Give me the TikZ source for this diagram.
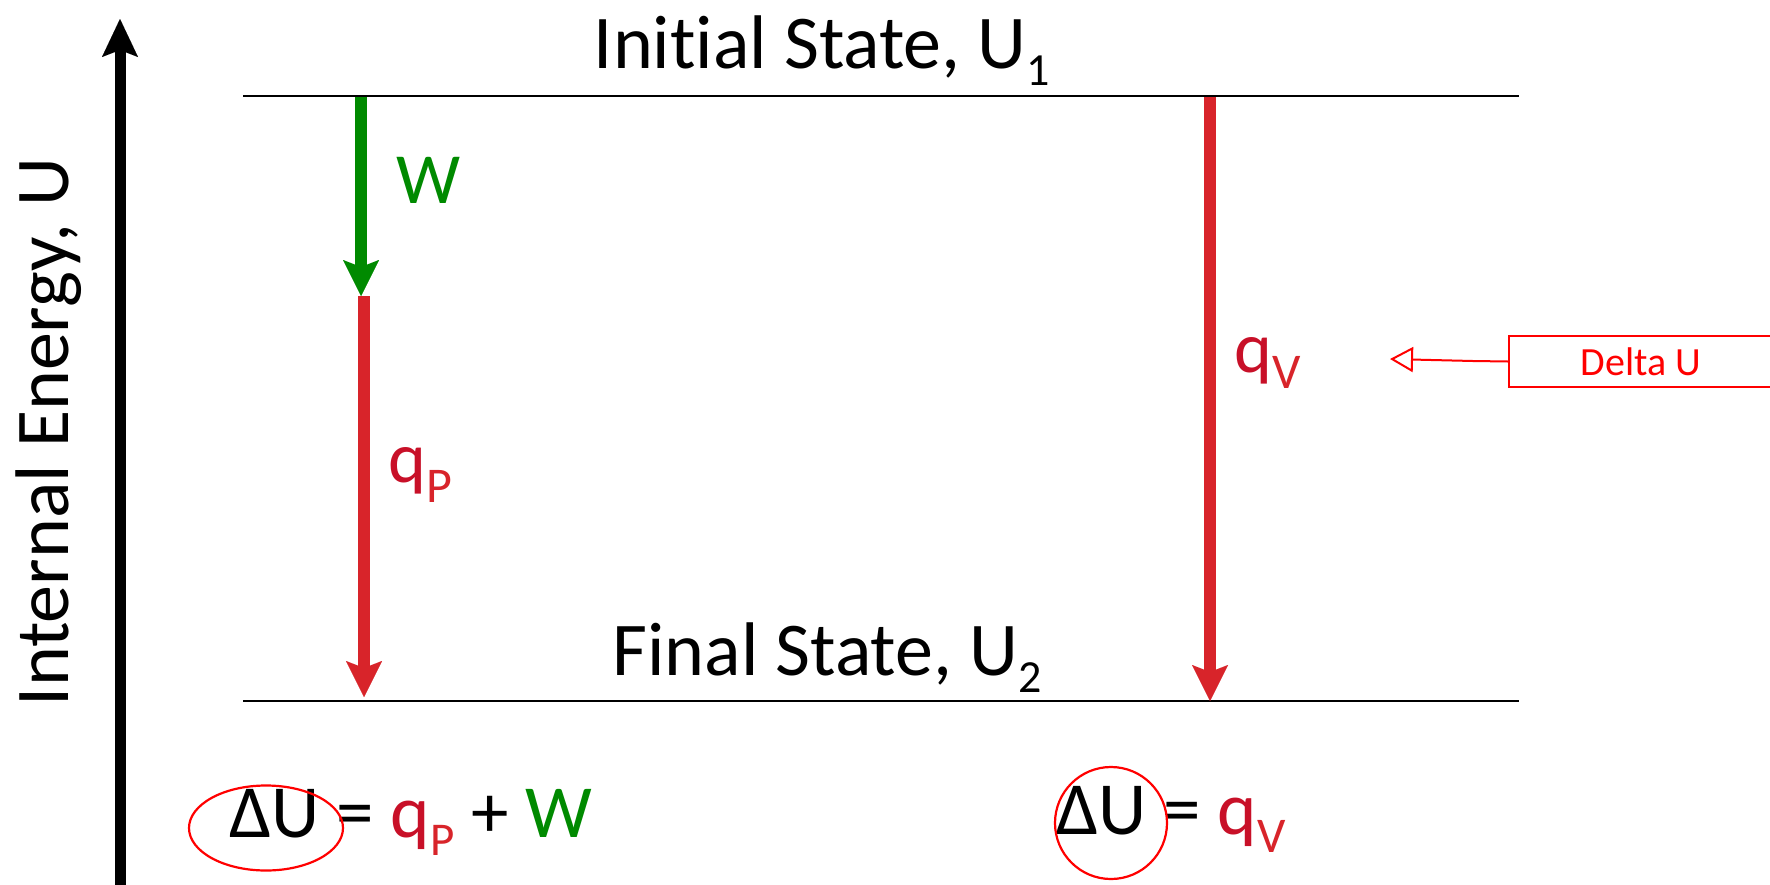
\documentclass[tikz,border=0pt]{standalone}
\usepackage{fontspec}
\setmainfont{Carlito}[Ligatures={NoCommon}]
\usetikzlibrary{arrows.meta,shapes.geometric}
\definecolor{grn}{RGB}{0,138,0}
\definecolor{arred}{RGB}{216,36,42}
\definecolor{qred}{RGB}{200,16,40}
\definecolor{pred}{RGB}{255,0,0}
\newcommand{\lowsub}[3]{\raisebox{-#1pt}{\fontsize{#2}{#2}\selectfont #3}}
\begin{document}
\begin{tikzpicture}[x=1pt,y=-1pt,
  big/.style={font=\fontsize{76}{80}\selectfont, inner sep=0pt},
  lbl/.style={font=\fontsize{72}{76}\selectfont, inner sep=0pt},
  eqn/.style={font=\fontsize{75}{80}\selectfont, inner sep=0pt},
  level/.style={line width=2pt},
  fat/.style={line width=12pt, -{Stealth[length=36pt,width=36pt,inset=7pt,line width=0.01pt]}},
  ring/.style={draw=pred, line width=2.2pt, inner sep=0pt}]
\useasboundingbox (0,0) rectangle (1770,884);
\fill[white] (0,0) rectangle (1770,884);
% axis
\coordinate (axb) at (120,890);
\coordinate (axt) at (120,19);
\draw[line width=11pt, -{Stealth[length=38pt,width=36pt,inset=7pt,line width=0.01pt]}] (axb) -- (axt);
\node[big, rotate=90, anchor=base] (axl) at (68,432) {Internal Energy, U};
% levels
\coordinate (t1) at (243,96); \coordinate (t2) at (1519,96);
\coordinate (b1) at (243,701); \coordinate (b2) at (1519,701);
\draw[level] (t1) -- (t2);
\draw[level] (b1) -- (b2);
\node[big, anchor=base] (init) at (822,68) {Initial State, U\lowsub{17}{46}{1}};
\node[big, anchor=base] (final) at (827,675) {Final State, U\lowsub{17}{46}{2}};
% left path
\coordinate (g0) at (361,97); \coordinate (g1) at (361,296);
\coordinate (r0) at (364,296); \coordinate (r1) at (364,697);
\draw[fat, draw=grn, fill=grn] (g0) -- (g1);
\draw[fat, draw=arred, fill=arred] (r0) -- (r1);
\node[lbl, text=grn, anchor=base] (wl) at (429,203) {W};
\node[lbl, text=qred, anchor=base west] (qp) at (388,482) {q\lowsub{20}{50}{\textcolor{arred}{P}}};
% right path
\coordinate (v0) at (1210,97); \coordinate (v1) at (1210,701);
\draw[fat, draw=arred, fill=arred] (v0) -- (v1);
\node[lbl, text=qred, anchor=base west] (qv) at (1234,372) {q\lowsub{16}{50}{\textcolor{arred}{V}}};
% Delta U callout
\node[draw=pred, line width=2pt, text=pred, font=\fontsize{40}{42}\selectfont,
      minimum width=264pt, minimum height=51pt, inner sep=0pt] (dbox) at (1641,361.5) {Delta U};
\coordinate (dk) at (1473,361);
\coordinate (dt) at (1390,359);
\draw[pred, line width=2pt, -{Triangle[open,length=23pt,width=25pt]}] (dbox.west) -- (dk) -- (dt);
% equations
\node[eqn, anchor=base west] (eq1) at (229,837) {ΔU = \textcolor{qred}{q}\lowsub{18}{47}{\textcolor{arred}{P}} + \textcolor{grn}{W}};
\node[ring, ellipse, minimum width=154pt, minimum height=85pt] (e1) at (266,828) {};
\node[eqn, anchor=base west] (eq2) at (1056,834) {ΔU = \textcolor{qred}{q}\lowsub{18}{50}{\textcolor{arred}{V}}};
\node[ring, circle, minimum size=112pt] (c2) at (1111,823) {};
\end{tikzpicture}
\end{document}
